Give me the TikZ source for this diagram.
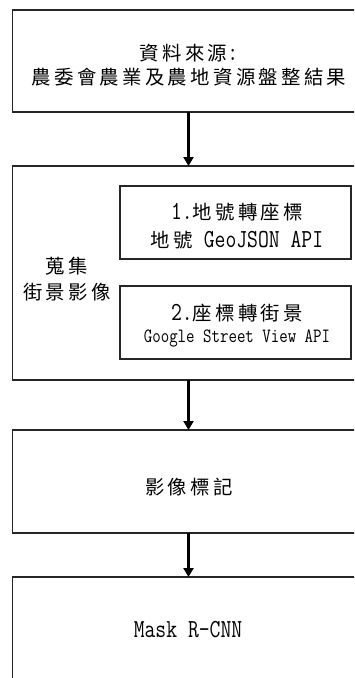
\documentclass[tikz,border=0pt]{standalone}
\usepackage{fontspec}
\setmainfont{Latin Modern Mono}[FakeStretch=0.81]
\newfontfamily\cjk[LetterSpace=17]{Noto Sans CJK TC}
\usetikzlibrary{arrows.meta}
\begin{document}
\begin{tikzpicture}[x=1pt,y=-1pt,
  box/.style={draw=black!85,line width=1.2pt,rectangle,inner sep=0pt,outer sep=0pt},
  flow/.style={draw=black,line width=2.6pt,-{Triangle[width=10pt,length=9pt]}},
  txt/.style={inner sep=0pt,align=center,font=\fontsize{19.4}{24}\selectfont},
  lat/.style={font=\fontsize{26}{24}\selectfont}]
\fill[white] (0,0) rectangle (354,678);
\useasboundingbox (0,0) rectangle (354,678);
\clip (0,0) rectangle (354,678);
% boxes
\node[box,minimum width=352pt,minimum height=102pt] (b1) at (188.5,61) {};
\node[box,minimum width=352pt,minimum height=214pt] (b2) at (188.5,273) {};
\node[box,minimum width=231pt,minimum height=73pt] (i1) at (235.5,222.5) {};
\node[box,minimum width=231pt,minimum height=73pt] (i2) at (235.5,322.5) {};
\node[box,minimum width=352pt,minimum height=103pt] (b3) at (188.5,481.5) {};
\node[box,minimum width=352pt,minimum height=123pt] (b4) at (188.5,638.5) {};
% texts
\node[txt] (t1) at (189,65) {{\cjk 資料來源}{\fontsize{26}{24}\selectfont :}\\{\cjk 農委會農業及農地資源盤整結果}};
\node[txt,font=\fontsize{19.4}{26}\selectfont] (t2) at (67,279) {{\cjk 蒐集}\\{\cjk 街景影像}};
\node[txt,font=\fontsize{19.4}{28}\selectfont] (t3) at (237,226) {{\fontsize{26}{28}\selectfont 1.}{\cjk 地號轉座標}\\{\cjk 地號}{\fontsize{26}{28}\selectfont\ GeoJSON API}};
\node[txt] (t4) at (237,326) {{\fontsize{26}{24}\selectfont 2.}{\cjk 座標轉街景}\\[-2pt]{\fontsize{20.3}{18}\selectfont Google Street View API}};
\node[txt] (t5) at (189,487) {{\cjk 影像標記}};
\node[txt,lat] (t6) at (188,630) {Mask R-CNN};
% arrows
\draw[flow] (b1.south) -- (b2.north);
\draw[flow] (b2.south) -- (b3.north);
\draw[flow] (b3.south) -- (b4.north);
\end{tikzpicture}
\end{document}
